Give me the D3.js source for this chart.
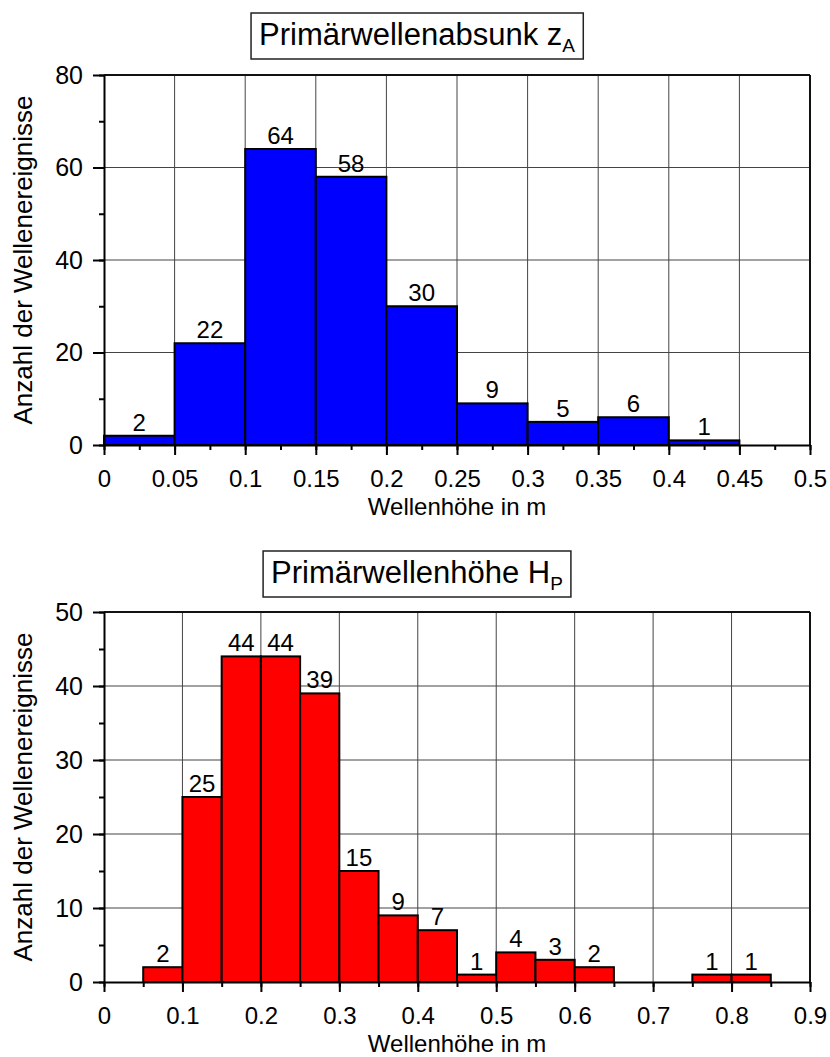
<!DOCTYPE html>
<html>
<head>
<meta charset="utf-8">
<script src="https://cdn.jsdelivr.net/npm/d3@7"></script>
<style>
  body { margin: 0; background: #fff; }
  svg { font-family: "Liberation Sans", Arial, sans-serif; }
</style>
</head>
<body>
<div id="chart"></div>
<script>
// Primärwellenabsunk z_A
const zaLower = [0, 0.05, 0.1, 0.15, 0.2, 0.25, 0.3, 0.35, 0.4];
const zaCounts = [2, 22, 64, 58, 30, 9, 5, 6, 1];
const zaXTicks = [0, 0.05, 0.1, 0.15, 0.2, 0.25, 0.3, 0.35, 0.4, 0.45, 0.5];
const zaYTicks = [0, 20, 40, 60, 80];

// Primärwellenhöhe H_P
const hpLower = [0.05, 0.1, 0.15, 0.2, 0.25, 0.3, 0.35, 0.4, 0.45, 0.5, 0.55, 0.6, 0.75, 0.8];
const hpCounts = [2, 25, 44, 44, 39, 15, 9, 7, 1, 4, 3, 2, 1, 1];
const hpXTicks = [0, 0.1, 0.2, 0.3, 0.4, 0.5, 0.6, 0.7, 0.8, 0.9];
const hpYTicks = [0, 10, 20, 30, 40, 50];

const binWidth = 0.05;

const svg = d3.select("#chart")
    .append("svg")
    .attr("width", 830)
    .attr("height", 1057);

drawChart({
    top: 75, bottom: 445, left: 104, right: 810,
    titleMain: "Primärwellenabsunk z", titleSub: "A", titleY: 45,
    lower: zaLower, counts: zaCounts,
    xTicks: zaXTicks, yTicks: zaYTicks,
    xMinorStep: 0.025, yMinorStep: 10,
    fill: "#0000ff"
});

drawChart({
    top: 612, bottom: 982, left: 104, right: 810,
    titleMain: "Primärwellenhöhe H", titleSub: "P", titleY: 583,
    lower: hpLower, counts: hpCounts,
    xTicks: hpXTicks, yTicks: hpYTicks,
    xMinorStep: 0.05, yMinorStep: 5,
    fill: "#ff0000"
});

function drawChart(c) {
    const g = svg.append("g");
    const xMax = d3.max(c.xTicks), yMax = d3.max(c.yTicks);

    const x = d3.scaleLinear().domain([0, xMax]).range([c.left, c.right]);
    const y = d3.scaleLinear().domain([0, yMax]).range([c.bottom, c.top]);

    // grid
    g.selectAll(".vgrid")
        .data(c.xTicks.slice(1, -1))
        .enter().append("line")
        .attr("x1", d => x(d)).attr("x2", d => x(d))
        .attr("y1", c.top).attr("y2", c.bottom)
        .attr("stroke", "#444").attr("stroke-width", 1);

    g.selectAll(".hgrid")
        .data(c.yTicks.slice(1, -1))
        .enter().append("line")
        .attr("x1", c.left).attr("x2", c.right)
        .attr("y1", d => y(d)).attr("y2", d => y(d))
        .attr("stroke", "#444").attr("stroke-width", 1);

    // bars
    const bins = c.lower.map((d, i) => ({ x0: d, x1: d + binWidth, n: c.counts[i] }));

    g.selectAll(".bar")
        .data(bins)
        .enter().append("rect")
        .attr("x", d => x(d.x0))
        .attr("y", d => y(d.n))
        .attr("width", d => x(d.x1) - x(d.x0))
        .attr("height", d => y(0) - y(d.n))
        .attr("fill", c.fill)
        .attr("stroke", "#000")
        .attr("stroke-width", 2);

    g.selectAll(".val")
        .data(bins)
        .enter().append("text")
        .attr("x", d => (x(d.x0) + x(d.x1)) / 2)
        .attr("y", d => y(d.n) - 5)
        .attr("text-anchor", "middle")
        .style("font-size", "24px")
        .text(d => d.n);

    // frame top / right
    g.append("line")
        .attr("x1", c.left).attr("x2", c.right)
        .attr("y1", c.top).attr("y2", c.top)
        .attr("stroke", "#111").attr("stroke-width", 2);
    g.append("line")
        .attr("x1", c.right).attr("x2", c.right)
        .attr("y1", c.top).attr("y2", c.bottom)
        .attr("stroke", "#111").attr("stroke-width", 2);

    // minor ticks
    const xMinor = d3.range(0, xMax + 1e-9, c.xMinorStep);
    const yMinor = d3.range(0, yMax + 1e-9, c.yMinorStep);

    g.append("g")
        .attr("transform", "translate(0," + c.bottom + ")")
        .call(d3.axisBottom(x).tickValues(xMinor).tickSize(5).tickSizeOuter(0).tickFormat(""))
        .call(a => a.selectAll("line").attr("stroke-width", 2))
        .call(a => a.select(".domain").remove());

    g.append("g")
        .attr("transform", "translate(" + c.left + ",0)")
        .call(d3.axisLeft(y).tickValues(yMinor).tickSize(5).tickSizeOuter(0).tickFormat(""))
        .call(a => a.selectAll("line").attr("stroke-width", 2))
        .call(a => a.select(".domain").remove());

    // major axes
    const xAxis = g.append("g")
        .attr("transform", "translate(0," + c.bottom + ")")
        .call(d3.axisBottom(x).tickValues(c.xTicks).tickSize(10).tickSizeOuter(0)
            .tickPadding(15).tickFormat(d => d3.format("~g")(d)));
    xAxis.selectAll("line").attr("stroke-width", 2);
    xAxis.select(".domain").attr("stroke-width", 2);
    xAxis.selectAll("text")
        .style("font-size", "24px")
        .style("font-family", "Liberation Sans, Arial, sans-serif")
        .attr("fill", "#000");

    const yAxis = g.append("g")
        .attr("transform", "translate(" + c.left + ",0)")
        .call(d3.axisLeft(y).tickValues(c.yTicks).tickSize(11).tickSizeOuter(0).tickPadding(10));
    yAxis.selectAll("line").attr("stroke-width", 2);
    yAxis.select(".domain").attr("stroke-width", 2);
    yAxis.selectAll("text")
        .style("font-size", "25px")
        .style("font-family", "Liberation Sans, Arial, sans-serif")
        .attr("fill", "#000");

    // axis titles
    g.append("text")
        .attr("x", (c.left + c.right) / 2)
        .attr("y", c.bottom + 70)
        .attr("text-anchor", "middle")
        .style("font-size", "24px")
        .text("Wellenhöhe in m");

    g.append("text")
        .attr("transform", "translate(32," + (c.top + c.bottom) / 2 + ") rotate(-90)")
        .attr("text-anchor", "middle")
        .style("font-size", "26px")
        .text("Anzahl der Wellenereignisse");

    // boxed title
    const title = g.append("text")
        .attr("x", 417)
        .attr("y", c.titleY)
        .attr("text-anchor", "middle")
        .style("font-size", "31px");
    title.append("tspan").text(c.titleMain);
    title.append("tspan")
        .attr("dy", 7)
        .style("font-size", "19px")
        .text(c.titleSub);

    const bb = title.node().getBBox();
    g.insert("rect", "text")
        .attr("x", bb.x - 8)
        .attr("y", c.titleY - 32)
        .attr("width", bb.width + 16)
        .attr("height", 46)
        .attr("fill", "none")
        .attr("stroke", "#222")
        .attr("stroke-width", 1.5);
}
</script>
</body>
</html>
